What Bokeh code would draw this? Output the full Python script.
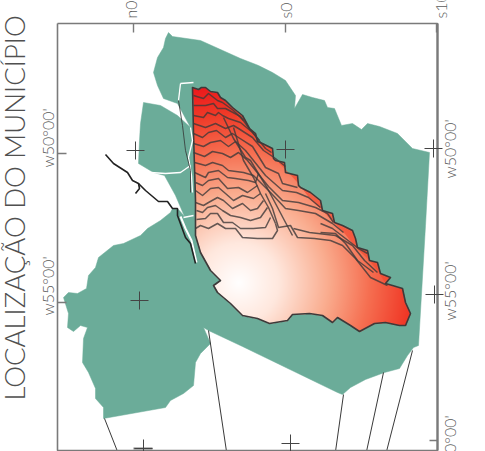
import numpy as np
from bokeh.plotting import figure
from bokeh.core.properties import value
from bokeh.embed import file_html
from bokeh.resources import INLINE

TITLE = "LOCALIZAÇÃO DO MUNICÍPIO"
lat_labels = ["n0", "s0", "s10"]
lat_x = [130, 285, 440]
lon_labels_left = ["w50°00'", "w55°00'"]
lon_left_y = [167, 315]
lon_labels_right = ["w50°00'", "w55°00'", "w60°00'"]
lon_right_y = [178, 320, 474]

frame_x = [57, 437, 437, 57, 57]
frame_y = [23, 23, 450, 450, 23]
cross_x = [135, 285, 433, 139, 434, 290, 143]
cross_y = [150, 149, 148, 300, 294, 443, 448]

land_x = [168,172,200,240,258,272,285,295,294,302,312,324,327,334,341,352,361,367,379,397,412,429,425,418,413,407,399,384,365,350,342,337,242,208,203,210,200,195,193,183,170,165,103,103,95,95,88,82,83,87,80,73,67,68,63,68,77,86,88,95,98,113,123,140,147,160,170,172,178,184,175,164,153,138,139,140,143,160,177,190,177,163,157,153,157,163,165]
land_y = [32,36,40,58,65,72,80,95,108,94,97,100,107,108,125,123,129,123,126,133,148,152,225,345,347,355,368,372,379,387,394,392,346,330,327,343,353,362,385,393,400,407,418,407,398,388,372,362,338,327,325,331,327,313,297,292,293,288,275,267,257,245,243,235,228,220,212,208,209,216,195,175,172,163,140,123,102,105,115,127,103,98,85,72,57,47,38]

red_x = [192,198,201,205,210,217,220,225,232,242,249,255,257,262,272,273,275,284,285,289,297,298,300,310,320,322,332,334,342,352,355,357,367,369,377,380,390,385,392,402,405,410,405,399,385,374,359,350,337,332,322,309,292,287,269,257,242,230,217,213,220,215,210,200,195,195,193]
red_y = [87,89,87,87,91,92,97,100,107,115,128,133,141,143,148,158,160,162,172,173,175,185,187,192,200,210,213,222,225,230,238,247,250,260,262,273,277,283,285,288,302,313,325,325,322,323,331,325,317,322,315,313,314,320,323,318,315,303,292,285,280,275,270,252,235,200,133]

edge_band_x = [232,242,249,255,257,262,272,273,275,284,285,289,297,298,300,310,320,322,332,334,342,352,355,357,367,369,377,380,390,385,377,367,355,345,332,320,310,297,285,272,262,250,240]
edge_band_y = [107,115,128,133,141,143,148,158,160,162,172,173,175,185,187,192,200,210,213,222,225,230,238,247,250,260,262,273,277,283,270,258,247,234,221,208,199,182,169,156,149,136,124]

contours = [
 [(193,95),(203,98),(208,93),(217,100),(222,102),(233,110),(243,120)],
 [(193,105),(205,105),(213,103),(217,108),(225,108),(240,116),(248,127),(259,140)],
 [(193,115),(203,117),(207,112),(215,115),(218,112),(222,115),(228,118),(240,122),(252,132),(265,148),(271,152)],
 [(193,123),(205,127),(215,123),(225,128),(233,125),(238,128),(252,137),(263,150),(275,158),(285,166)],
 [(193,133),(202,137),(208,132),(216,130),(225,137),(232,133),(238,137),(252,146),(265,167),(278,173),(282,183),(297,187)],
 [(193,143),(203,146),(210,142),(220,140),(228,146),(235,141),(245,150),(265,175),(282,190),(296,192),(308,197),(320,207)],
 [(193,152),(204,156),(212,151),(222,153),(230,157),(238,152),(247,160),(268,186),(282,200),(298,202),(315,207),(327,213),(333,222)],
 [(194,162),(205,165),(212,162),(222,165),(228,170),(243,172),(253,175),(270,192),(285,208),(298,210),(315,213),(332,223),(343,232)],
 [(194,172),(205,177),(208,172),(218,170),(227,177),(235,178),(248,180),(255,182),(258,173)],
 [(195,182),(202,185),(208,180),(218,178),(227,188),(238,187),(247,192),(257,185)],
 [(195,190),(202,195),(210,188),(218,187),(225,193),(233,200),(242,195),(253,198),(260,193)],
 [(195,202),(203,205),(208,202),(217,197),(223,200),(232,208),(242,203),(250,210),(257,208),(263,200)],
 [(196,210),(202,212),(207,207),(215,205),(222,210),(230,215),(240,217),(250,220),(260,217),(267,207)],
 [(196,219),(205,218),(210,213),(217,213),(223,222),(232,222),(240,228),(253,228),(265,227),(270,217)],
 [(195,228),(200,225),(208,228),(217,223),(225,228),(235,228),(242,237),(257,238),(272,238),(277,230),(275,223)],
 [(233,127),(243,160),(253,177),(260,193),(268,207),(275,223)],
 [(223,117),(233,138),(245,157),(250,160),(267,188),(275,203),(285,222),(292,235)],
 [(265,193),(272,208),(278,227),(290,225),(297,237),(314,238),(330,240),(342,245),(355,258),(370,277),(387,285)],
 [(293,228),(309,232),(335,235),(352,245),(364,260),(377,272)],
 [(320,232),(335,233),(345,243),(357,260),(373,272)],
 [(320,223),(332,228),(345,238),(358,248),(367,253)],
]

coast_x = [105,113,127,132,138,145,158,167,172,177,177,185,190,195]
coast_y = [154,163,172,180,183,190,201,201,208,208,215,237,243,263]
hook_x = [138,139,135]
hook_y = [183,188,193]
river_white_x = [180,185,191,196]
river_white_y = [216,228,240,262]
inner_line_x = [178,182,185,190,190]
inner_line_y = [100,125,150,170,192]
white_lines = [
 [(180,83),(193,82)], [(180,83),(178,100)],
 [(190,127),(192,140),(188,157),(191,175),(192,192)],
 [(150,172),(165,173),(180,172),(190,165)],
 [(183,217),(193,215)],
]
leader_lines = [
 [(104,418),(117,451)], [(208,330),(226,451)], [(343,394),(335,451)],
 [(383,372),(366,451)], [(412,350),(386,451)],
]
grad_r = [0, 40, 90, 130, 170, 200, 240]
grad_c = [(255,255,255),(255,232,222),(250,172,142),(246,112,82),(240,58,40),(236,24,28),(236,20,26)]
grad_center = (238, 282)

TEAL = "#6bac99"
GREY = "#7a7a7a"
DARK = "#3e3a3a"
FONT = value("Lato Light")

p = figure(width=485, height=451, x_range=(0, 485), y_range=(451, 0),
           x_axis_type=None, y_axis_type=None, toolbar_location=None,
           output_backend="svg", min_border=0, outline_line_color=None,
           background_fill_color="white", border_fill_color="white")
p.grid.visible = False

p.patch(land_x, land_y, fill_color=TEAL, line_color=TEAL, line_width=0.5)

# radial gradient, masked to the red polygon
x0, x1, y0, y1 = 188, 414, 83, 335
S = 2
xs = x0 + (np.arange((x1 - x0) * S) + .5) / S
ys = y0 + (np.arange((y1 - y0) * S) + .5) / S
X, Y = np.meshgrid(xs, ys)
R = np.hypot(X - grad_center[0], Y - grad_center[1])
inside = np.zeros(X.shape, bool)
px, py = np.array(red_x, float), np.array(red_y, float)
for i in range(len(px)):
    xa, ya, xb, yb = px[i], py[i], px[(i + 1) % len(px)], py[(i + 1) % len(px)]
    if ya == yb:
        continue
    c = ((ya > Y) != (yb > Y)) & (X < xa + (Y - ya) * (xb - xa) / (yb - ya))
    inside ^= c
img = np.zeros(X.shape + (4,), dtype=np.uint8)
for k in range(3):
    img[..., k] = np.interp(R, grad_r, [c[k] for c in grad_c])
img[..., 3] = inside * 255
u32 = np.frombuffer(img.tobytes(), dtype=np.uint32).reshape(X.shape)
p.image_rgba(image=[u32], x=x0, y=y0, dw=x1 - x0, dh=y1 - y0)

p.patch(edge_band_x, edge_band_y, fill_color="#f2482f", fill_alpha=0.65, line_color=None)

for c in contours:
    p.line([a for a, b in c], [b for a, b in c], line_color=DARK, line_width=1.5,
           line_alpha=0.8, line_join="round")
p.patch(red_x, red_y, fill_color=None, line_color=DARK, line_width=1.6, line_join="round")

for c in white_lines:
    p.line([a for a, b in c], [b for a, b in c], line_color="white", line_width=1.3)
p.line(inner_line_x, inner_line_y, line_color="#333333", line_width=0.8)
p.line(river_white_x, river_white_y, line_color="white", line_width=2)
p.line(coast_x, coast_y, line_color="#222222", line_width=1.6)
p.line(hook_x, hook_y, line_color="#222222", line_width=1.6)
for c in leader_lines:
    p.line([a for a, b in c], [b for a, b in c], line_color="#222222", line_width=0.9)

# frame
p.line(frame_x, frame_y, line_color=GREY, line_width=1.6)
p.line([437, 437], [23, 450], line_color=GREY, line_width=2.2)
for lx in (133, 285, 436):
    p.line([lx, lx], [23, 32], line_color=GREY, line_width=1.4)
for ly in (153, 302):
    p.line([57, 66], [ly, ly], line_color=GREY, line_width=1.4)
p.line([429, 437], [440, 440], line_color=GREY, line_width=1.4)
p.line([133, 152], [448, 448], line_color=GREY, line_width=2)

for cx, cy in zip(cross_x, cross_y):
    p.line([cx - 9, cx + 9], [cy, cy], line_color="#444444", line_width=1)
    p.line([cx, cx], [cy - 9, cy + 9], line_color="#444444", line_width=1)

common = dict(text_font=FONT, angle=np.pi / 2, text_align="left", text_baseline="middle")
p.text([14], [400], text=[TITLE], text_font_size="27.5px", text_color="#505050", **common)
p.text(lat_x, [18] * 3, text=lat_labels, text_font_size="16px", text_color="#5a5a5a", **common)
p.text([47] * 2, lon_left_y, text=lon_labels_left, text_font_size="16px", text_color="#5a5a5a", **common)
p.text([449] * 3, lon_right_y, text=lon_labels_right, text_font_size="16px", text_color="#5a5a5a", **common)

open("out.html", "w").write(file_html(p, INLINE))
